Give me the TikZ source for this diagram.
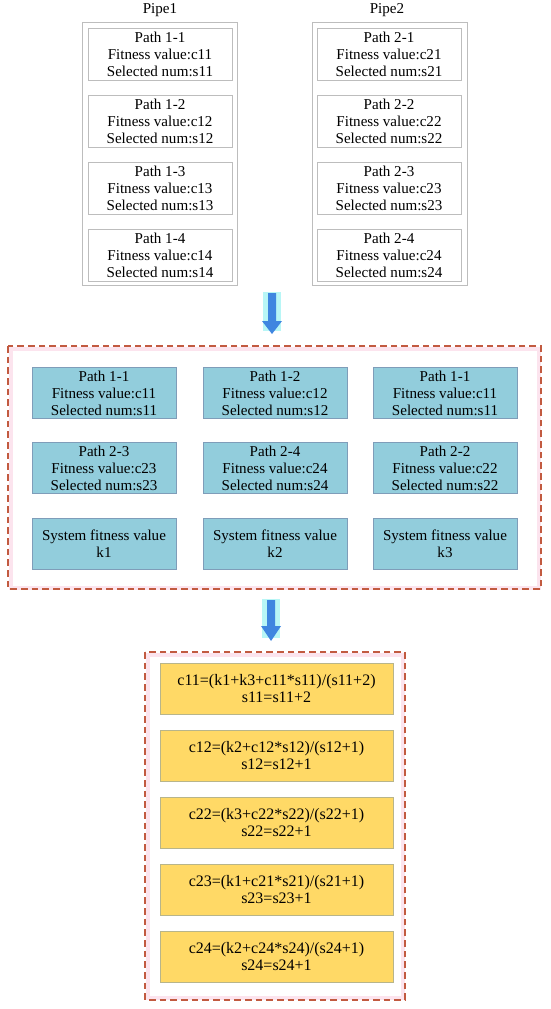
\documentclass[tikz,border=0pt]{standalone}
\usepackage{fontspec}
\setmainfont{Liberation Serif}
\definecolor{boxgray}{HTML}{BDBDBD}
\definecolor{tealfill}{HTML}{92CDDC}
\definecolor{tealline}{HTML}{7F9DB9}
\definecolor{yellfill}{HTML}{FFD966}
\definecolor{yellline}{HTML}{B8B58A}
\definecolor{dashred}{HTML}{C25A40}
\definecolor{pinkglow}{HTML}{FCE4EE}
\definecolor{arrowblue}{HTML}{3F86E0}
\definecolor{arrowglow}{HTML}{B8F6F6}
\begin{document}
\begin{tikzpicture}[x=0.75pt,y=-0.75pt,
  txt/.style={font=\fontsize{11.3}{12.75}\selectfont, align=center, inner sep=0pt},
  pathbox/.style={txt, draw=boxgray, line width=0.6pt, minimum width=144*0.75pt, minimum height=52*0.75pt},
  pipebox/.style={draw=boxgray, line width=0.6pt},
  tealbox/.style={txt, draw=tealline, fill=tealfill, line width=0.5pt, minimum width=144*0.75pt, minimum height=51*0.75pt},
  yellbox/.style={txt, font=\fontsize{12}{12.75}\selectfont, draw=yellline, fill=yellfill, line width=0.5pt, minimum width=233*0.75pt, minimum height=51*0.75pt},
  dashbox/.style={draw=dashred, line width=0.9pt, dash pattern=on 5pt off 3pt},
  glowbox/.style={draw=pinkglow, line width=3pt},
  blockarrow/.style={fill=arrowblue, draw=none},
  arrowglowst/.style={fill=arrowglow, draw=none}
]
\useasboundingbox (0,0) rectangle (550,1009);

% Pipe outer boxes
\node[txt] (pipe1lbl) at (160,10) {Pipe1};
\node[txt] (pipe2lbl) at (387,10) {Pipe2};
\draw[pipebox] (82,22) rectangle (237,285);
\draw[pipebox] (312,22) rectangle (467,285);

\foreach \i/\y in {1/54,2/121,3/188,4/255}{
  \node[pathbox] (p1\i) at (160,\y) {Path 1-\i\\Fitness value:c1\i\\Selected num:s1\i};
  \node[pathbox] (p2\i) at (389,\y) {Path 2-\i\\Fitness value:c2\i\\Selected num:s2\i};
}

% Arrow 1
\fill[arrowglowst] (263,292) rectangle (281,331);
\fill[blockarrow] (268,293) -- (276,293) -- (276,321) -- (282,321) -- (272,334) -- (262,321) -- (268,321) -- cycle;

% Middle dashed box
\draw[glowbox] (10.5,348.5) rectangle (538.5,587.5);
\draw[dashbox] (8,346) rectangle (541,589);

\node[tealbox] (m11) at (104,393) {Path 1-1\\Fitness value:c11\\Selected num:s11};
\node[tealbox] (m12) at (275,393) {Path 1-2\\Fitness value:c12\\Selected num:s12};
\node[tealbox] (m13) at (445,393) {Path 1-1\\Fitness value:c11\\Selected num:s11};
\node[tealbox] (m21) at (104,468) {Path 2-3\\Fitness value:c23\\Selected num:s23};
\node[tealbox] (m22) at (275,468) {Path 2-4\\Fitness value:c24\\Selected num:s24};
\node[tealbox] (m23) at (445,468) {Path 2-2\\Fitness value:c22\\Selected num:s22};
\node[tealbox] (m31) at (104,544) {System fitness value\\k1};
\node[tealbox] (m32) at (275,544) {System fitness value\\k2};
\node[tealbox] (m33) at (445,544) {System fitness value\\k3};

% Arrow 2
\fill[arrowglowst] (262,599) rectangle (280,638);
\fill[blockarrow] (267,600) -- (275,600) -- (275,626) -- (281,626) -- (271,641) -- (261,626) -- (267,626) -- cycle;

% Bottom dashed box
\draw[glowbox] (147.5,654.5) rectangle (402.5,997.5);
\draw[dashbox] (145,652) rectangle (405,1000);

\node[yellbox] (y1) at (276.5,689) {c11=(k1+k3+c11*s11)/(s11+2)\\s11=s11+2};
\node[yellbox] (y2) at (276.5,756) {c12=(k2+c12*s12)/(s12+1)\\s12=s12+1};
\node[yellbox] (y3) at (276.5,823) {c22=(k3+c22*s22)/(s22+1)\\s22=s22+1};
\node[yellbox] (y4) at (276.5,890) {c23=(k1+c21*s21)/(s21+1)\\s23=s23+1};
\node[yellbox] (y5) at (276.5,957) {c24=(k2+c24*s24)/(s24+1)\\s24=s24+1};
\end{tikzpicture}
\end{document}
